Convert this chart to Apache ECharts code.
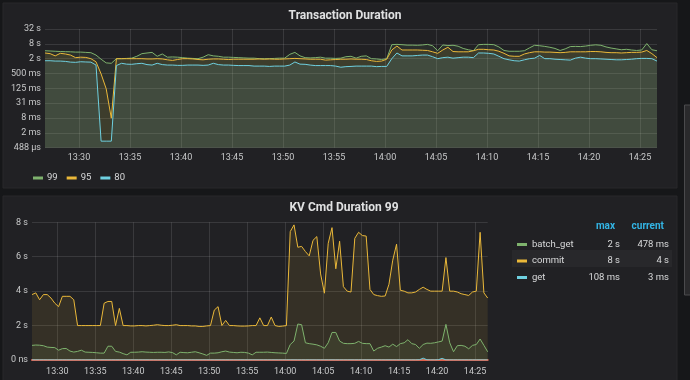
<!DOCTYPE html>
<html>
<head>
<meta charset="utf-8">
<script src="https://cdn.jsdelivr.net/npm/echarts@6/dist/echarts.min.js"></script>
<style>
html,body{margin:0;padding:0;background:#161719;}
#c{width:690px;height:380px;}
</style>
</head>
<body>
<div id="c"></div>
<script>
// ---- time base: 30 s samples from 13:26:40 to 14:26:40 ----
const T0 = new Date(2019, 4, 1, 13, 26, 40).getTime();
const STEP = 30 * 1000;
const T_END = T0 + 120 * STEP;

// ---- Transaction Duration (seconds, log axis) ----
const topTickValues = [0.00048828125, 0.001953125, 0.0078125, 0.03125, 0.125, 0.5, 2, 8, 32];
const txNames = ['99', '95', '80'];
const tx99 = [
  4.2, 4.1, 4.0, 3.9, 3.85, 3.8, 3.7, 3.7, 3.6, 3.5,
  2.8, 1.9, 1.35, 1.3, 2.0, 2.0, 2.05, 2.1, 2.5, 3.2,
  3.4, 3.6, 2.5, 3.1, 2.3, 2.35, 2.3, 2.2, 2.1, 2.05,
  2.0, 2.3, 2.9, 2.6, 2.5, 2.3, 2.3, 2.25, 2.2, 2.15,
  2.1, 2.1, 2.0, 2.0, 2.0, 2.05, 2.1, 2.1, 3.0, 3.6,
  2.6, 2.2, 2.15, 2.2, 2.3, 2.1, 2.1, 2.05, 2.1, 2.4,
  2.5, 2.1, 2.5, 2.6, 2.0, 1.95, 1.85, 2.0, 7.4, 7.6,
  7.4, 7.1, 7.1, 7.0, 7.2, 7.6, 6.7, 4.2, 7.2, 6.8,
  7.0, 6.4, 5.2, 4.6, 4.2, 7.4, 7.6, 7.6, 7.4, 6.0,
  4.3, 4.0, 4.0, 4.0, 4.2, 5.5, 7.0, 6.7, 6.3, 5.8,
  5.2, 4.3, 5.0, 6.2, 6.3, 6.2, 6.5, 7.0, 7.3, 7.0,
  6.0, 5.4, 5.0, 4.6, 4.8, 4.5, 4.3, 4.5, 8.2, 4.6,
  4.2
];
const tx95 = [
  3.4, 3.2, 2.6, 3.3, 3.1, 2.8, 2.2, 2.3, 2.25, 2.0,
  1.5, 0.48, 0.12, 0.0077, 2.0, 2.0, 2.0, 2.0, 2.0, 2.0,
  1.95, 1.95, 2.0, 1.95, 1.8, 1.7, 1.85, 2.0, 2.0, 1.95,
  1.85, 1.8, 1.9, 1.95, 1.95, 1.9, 1.85, 1.9, 1.9, 1.9,
  1.9, 1.9, 1.95, 1.9, 1.95, 1.9, 1.9, 1.95, 2.0, 2.05,
  2.0, 1.95, 1.9, 1.9, 1.9, 1.75, 1.8, 1.85, 1.9, 1.9,
  1.95, 1.9, 1.9, 1.85, 1.65, 1.55, 1.6, 1.9, 4.5, 6.5,
  4.5, 4.5, 4.5, 4.5, 4.4, 4.3, 3.8, 3.3, 4.5, 5.8,
  3.9, 3.8, 3.8, 3.8, 4.2, 4.8, 4.8, 4.6, 4.5, 4.0,
  3.3, 2.6, 2.5, 2.5, 3.1, 3.5, 3.8, 3.8, 3.7, 3.7,
  3.6, 3.5, 3.6, 3.8, 3.8, 3.8, 3.8, 3.9, 3.9, 3.8,
  3.6, 3.5, 3.5, 3.4, 3.5, 3.6, 3.6, 3.7, 4.3, 3.2,
  2.2
];
const tx80 = [
  1.65, 1.65, 1.6, 1.6, 1.55, 1.45, 1.42, 1.5, 1.47, 1.45,
  1.1, 0.0009, 0.0009, 0.0009, 1.05, 1.3, 1.2, 1.18, 1.25, 1.3,
  1.15, 1.1, 1.3, 1.15, 1.1, 1.1, 1.07, 1.07, 1.1, 1.1,
  1.1, 1.07, 1.1, 1.3, 1.15, 1.1, 1.1, 1.07, 1.05, 1.05,
  1.05, 1.0, 1.0, 1.0, 0.97, 1.0, 1.0, 1.0, 1.1, 1.47,
  1.2, 1.18, 1.1, 1.05, 1.05, 1.05, 1.05, 1.0, 0.9, 0.95,
  0.97, 1.0, 1.0, 1.0, 1.0, 0.95, 0.97, 0.97, 2.0, 3.4,
  2.6, 2.6, 2.6, 2.7, 2.8, 2.8, 2.4, 2.0, 2.2, 2.3,
  2.1, 2.2, 2.3, 2.3, 2.2, 3.4, 3.4, 3.3, 3.1, 2.5,
  2.0, 1.8, 1.65, 1.6, 1.8, 2.0, 2.1, 2.7, 2.0, 2.0,
  1.9, 1.85, 1.8, 1.75, 2.1, 2.3, 2.1, 2.0, 2.0, 1.95,
  1.9, 1.85, 1.8, 1.8, 1.85, 1.9, 2.0, 2.05, 2.05, 2.0,
  1.6
];

// ---- KV Cmd Duration 99 (seconds, linear axis) ----
const kvNames = ['batch_get', 'commit', 'get'];
const kvBatchGet = [
  0.85, 0.87, 0.86, 0.83, 0.75, 0.73, 0.72, 0.57, 0.66, 0.67,
  0.52, 0.46, 0.5, 0.57, 0.46, 0.45, 0.44, 0.42, 0.4, 0.4,
  0.8, 0.8, 0.5, 0.46, 0.37, 0.3, 0.45, 0.45, 0.46, 0.48,
  0.46, 0.45, 0.44, 0.45, 0.45, 0.44, 0.47, 0.43, 0.3, 0.45,
  0.43, 0.42, 0.45, 0.48, 0.42, 0.35, 0.27, 0.4, 0.4, 0.42,
  0.48, 0.52, 0.46, 0.44, 0.42, 0.45, 0.44, 0.4, 0.3, 0.45,
  0.45, 0.45, 0.46, 0.44, 0.42, 0.41, 0.4, 0.38, 0.9, 1.1,
  2.09, 2.05, 1.0, 0.95, 0.92, 0.88, 0.8, 0.68, 1.0, 1.6,
  1.6, 1.1, 0.97, 0.95, 0.95, 0.97, 1.08, 0.97, 0.95, 0.95,
  0.52, 0.68, 0.75, 0.83, 0.75, 0.92, 0.78, 0.95, 1.0, 1.18,
  0.95, 0.9, 0.68, 0.9, 0.98, 0.97, 1.0, 1.05, 1.1, 2.07,
  1.0, 0.48, 0.83, 0.85, 0.8, 0.65, 0.85, 0.9, 1.22, 0.85,
  0.478
];
const kvCommit = [
  3.8, 3.9, 3.5, 3.8, 3.8, 3.6, 3.3, 3.1, 3.7, 3.7,
  3.7, 3.5, 2.0, 2.0, 2.0, 2.0, 2.0, 2.0, 2.0, 3.3,
  3.4, 3.4, 2.0, 3.0, 2.0, 2.0, 1.98, 1.98, 2.0, 2.0,
  1.98, 2.0, 2.02, 2.05, 2.02, 2.0, 2.0, 2.02, 2.05, 2.0,
  2.0, 2.0, 1.98, 1.98, 1.95, 1.95, 1.98, 2.0, 2.9, 3.1,
  2.0, 2.3, 2.0, 2.0, 1.98, 1.97, 1.97, 1.98, 2.0, 2.0,
  2.45, 2.0, 2.0, 2.5, 2.0, 1.95, 1.97, 2.0, 7.46, 7.85,
  6.55, 6.6, 6.3, 6.05, 6.95, 7.17, 5.0, 3.88, 6.78, 7.69,
  5.3, 6.9, 4.26, 4.0, 3.95, 7.07, 7.42, 7.23, 7.2, 4.1,
  3.8, 3.74, 3.7, 3.72, 4.4, 5.8, 6.73, 4.05, 4.0, 3.9,
  3.9, 3.95, 4.1, 4.23, 4.1, 4.0, 4.0, 4.0, 4.0, 5.95,
  4.0, 4.0, 3.95, 3.85, 3.8, 3.75, 3.95, 4.0, 7.42, 3.9,
  3.6
];
const kvGet = [
  0.004, 0.005, 0.004, 0.006, 0.004, 0.005, 0.004, 0.004, 0.005, 0.004,
  0.005, 0.004, 0.006, 0.004, 0.004, 0.005, 0.004, 0.003, 0.004, 0.005,
  0.004, 0.004, 0.005, 0.004, 0.006, 0.004, 0.004, 0.005, 0.004, 0.004,
  0.005, 0.004, 0.004, 0.003, 0.004, 0.005, 0.004, 0.004, 0.006, 0.004,
  0.004, 0.005, 0.004, 0.004, 0.003, 0.004, 0.005, 0.004, 0.004, 0.005,
  0.004, 0.004, 0.005, 0.004, 0.004, 0.006, 0.004, 0.004, 0.005, 0.004,
  0.004, 0.005, 0.004, 0.004, 0.005, 0.004, 0.004, 0.005, 0.006, 0.005,
  0.005, 0.004, 0.005, 0.006, 0.004, 0.005, 0.004, 0.005, 0.004, 0.005,
  0.004, 0.005, 0.004, 0.004, 0.005, 0.004, 0.006, 0.004, 0.005, 0.004,
  0.004, 0.005, 0.004, 0.004, 0.005, 0.004, 0.004, 0.005, 0.004, 0.004,
  0.004, 0.005, 0.012, 0.108, 0.01, 0.005, 0.004, 0.015, 0.095, 0.006,
  0.004, 0.005, 0.004, 0.004, 0.005, 0.004, 0.004, 0.005, 0.004, 0.004,
  0.003
];

const COLORS = { green: '#7EB26D', yellow: '#EAB839', cyan: '#6ED0E0' };
const TXT = '#c8c9ca';
const GRIDLINE = 'rgba(255,255,255,0.11)';
const FONT = 'Roboto, "Noto Sans", sans-serif';
const TICK_APPROX = 6 * 60 * 1000; // asks the time scale for 5-minute ticks

function toPairs(arr) { return arr.map((v, i) => [T0 + i * STEP, v]); }
function fmtDur(v) {
  if (v >= 1) return Math.round(v) + ' s';
  if (v >= 0.001) return Math.round(v * 1000) + ' ms';
  return Math.round(v * 1e6) + ' µs';
}
function fmtTime(v) {
  const d = new Date(v);
  if (d.getSeconds() !== 0 || d.getMinutes() % 5 !== 0) return '';
  const p = n => (n < 10 ? '0' : '') + n;
  return p(d.getHours()) + ':' + p(d.getMinutes());
}
const kvData = { batch_get: kvBatchGet, commit: kvCommit, get: kvGet };
function kvMax(a) { return Math.max.apply(null, a); }

const chart = echarts.init(document.getElementById('c'), null, { renderer: 'canvas' });

function xAxisCfg(gridIndex, margin, redLine) {
  return {
    type: 'time', gridIndex, min: T0, max: T_END, splitNumber: 10,
    minInterval: TICK_APPROX, maxInterval: TICK_APPROX,
    axisLine: redLine ? { show: true, lineStyle: { color: '#E0604C', width: 2 } } : { show: false },
    axisTick: { show: false },
    splitLine: { show: true, showMinLine: false, showMaxLine: false, lineStyle: { color: GRIDLINE, width: 1 } },
    axisLabel: { formatter: fmtTime, color: TXT, fontSize: 9, fontFamily: FONT,
      margin, hideOverlap: false, showMinLabel: false, showMaxLabel: false }
  };
}
function areaLine(name, data, color, xi, yi) {
  return {
    name, type: 'line', xAxisIndex: xi, yAxisIndex: yi, data: toPairs(data),
    symbol: 'none', showSymbol: false, color,
    lineStyle: { width: 1, color },
    areaStyle: { color, opacity: 0.1, origin: 'start' },
    emphasis: { disabled: true }
  };
}

const option = {
  backgroundColor: '#161719',
  animation: false,
  textStyle: { fontFamily: FONT },
  graphic: [
    { type: 'rect', z: -10, shape: { x: 3, y: 3, width: 674, height: 185 },
      style: { fill: '#212124', stroke: '#28282b', lineWidth: 1 } },
    { type: 'rect', z: -10, shape: { x: 3, y: 196, width: 674, height: 190 },
      style: { fill: '#212124', stroke: '#28282b', lineWidth: 1 } },
    { type: 'rect', z: -9, shape: { x: 512, y: 250, width: 160, height: 17 },
      style: { fill: 'rgba(255,255,255,0.035)' } },
    { type: 'rect', z: -9, shape: { x: 684.5, y: 105, width: 6, height: 190 },
      style: { fill: '#2a2a2c', stroke: '#4a4a4c', lineWidth: 1 } },
    { type: 'text', x: 615, y: 226,
      style: { text: 'max', fill: '#33B5E5', font: 'bold 10px ' + FONT, align: 'right', verticalAlign: 'middle',
        textAlign: 'right', textVerticalAlign: 'middle' } },
    { type: 'text', x: 664, y: 226,
      style: { text: 'current', fill: '#33B5E5', font: 'bold 10px ' + FONT, align: 'right', verticalAlign: 'middle',
        textAlign: 'right', textVerticalAlign: 'middle' } }
  ],
  title: [
    { text: 'Transaction Duration', left: 340, top: 5, textAlign: 'center',
      textStyle: { color: '#e0e1e2', fontSize: 12, fontWeight: 'bold', fontFamily: FONT } },
    { text: 'KV Cmd Duration 99', left: 339, top: 197, textAlign: 'center',
      textStyle: { color: '#e0e1e2', fontSize: 12, fontWeight: 'bold', fontFamily: FONT } }
  ],
  legend: [
    { data: txNames, left: 28, top: 168, orient: 'horizontal', icon: 'rect',
      itemWidth: 10, itemHeight: 3, itemGap: 9, selectedMode: false,
      textStyle: { color: '#d8d9da', fontSize: 9.5, fontFamily: FONT, padding: [0, 0, 0, -1] } },
    { data: kvNames, left: 512, top: 233.5, orient: 'vertical', icon: 'rect',
      itemWidth: 10, itemHeight: 3, itemGap: 4.5, selectedMode: false,
      textStyle: { color: '#d8d9da', fontSize: 9.5, fontFamily: FONT, lineHeight: 12,
        rich: {
          n: { width: 55, lineHeight: 12, fontSize: 9.5, color: '#d8d9da' },
          m: { width: 33, align: 'right', lineHeight: 12, fontSize: 9.5, color: '#d8d9da' },
          c: { width: 49, align: 'right', lineHeight: 12, fontSize: 9.5, color: '#d8d9da' }
        } },
      formatter: function (name) {
        const a = kvData[name];
        return '{n|' + name + '}{m|' + fmtDur(kvMax(a)) + '}{c|' + fmtDur(a[a.length - 1]) + '}';
      } }
  ],
  grid: [
    { left: 45, top: 29, width: 612, height: 118.7 },
    { left: 32, top: 222.3, width: 455.7, height: 137.7 }
  ],
  xAxis: [ xAxisCfg(0, 6, false), xAxisCfg(1, 7, true) ],
  yAxis: [
    { type: 'log', gridIndex: 0, logBase: 2, min: topTickValues[0], max: topTickValues[topTickValues.length - 1],
      axisLine: { show: false }, axisTick: { show: false, customValues: topTickValues },
      splitLine: { show: true, lineStyle: { color: GRIDLINE, width: 1 } },
      axisLabel: { customValues: topTickValues, formatter: fmtDur, color: TXT, fontSize: 9, fontFamily: FONT, margin: 4 } },
    { type: 'value', gridIndex: 1, min: 0, max: 8, interval: 2,
      axisLine: { show: false }, axisTick: { show: false },
      splitLine: { show: true, lineStyle: { color: GRIDLINE, width: 1 } },
      axisLabel: { formatter: v => (v === 0 ? '0 ns' : v + ' s'), color: TXT, fontSize: 9, fontFamily: FONT, margin: 4 } }
  ],
  series: [
    areaLine('99', tx99, COLORS.green, 0, 0),
    areaLine('95', tx95, COLORS.yellow, 0, 0),
    areaLine('80', tx80, COLORS.cyan, 0, 0),
    areaLine('batch_get', kvBatchGet, COLORS.green, 1, 1),
    areaLine('commit', kvCommit, COLORS.yellow, 1, 1),
    areaLine('get', kvGet, COLORS.cyan, 1, 1)
  ]
};
chart.setOption(option);
</script>
</body>
</html>
